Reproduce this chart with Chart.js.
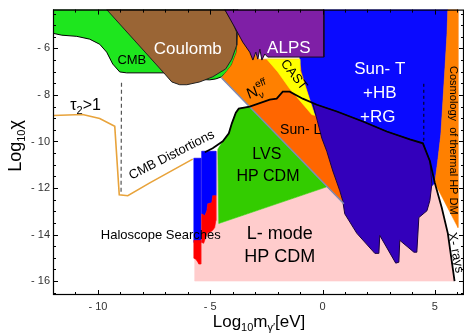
<!DOCTYPE html>
<html>
<head>
<meta charset="utf-8">
<title>Hidden photon limits</title>
<script src="https://cdn.jsdelivr.net/npm/chart.js@4.4.1/dist/chart.umd.min.js"></script>
<style>
  body { margin: 0; background: #fff; }
  canvas { display: block; }
</style>
</head>
<body>
<canvas id="myChart" width="464" height="334"></canvas>
<script>
// every point is [log10 m (eV), log10 chi]
var pinkRegion = [[-5.69,-10.72],[-5.38,-10.72],[-5.38,-10.42],[-4.66,-10.42],[-4.66,-13.57],[0.19,-11.95],[0.95,-12.68],[1.22,-13.06],[2.55,-13.61],[4.29,-13.19],[4.65,-12.76],[4.87,-11.82],[5.00,-11.78],[5.31,-12.85],[5.58,-13.95],[5.88,-16.0],[-5.69,-16.0]];
var cmbRegion = [[-12,-4.33],[-3.77,-4.33],[-3.77,-5.52],[-3.82,-6.16],[-4.04,-6.71],[-4.31,-7.05],[-4.49,-7.22],[-4.75,-7.31],[-5.02,-7.35],[-6.36,-7.30],[-6.94,-7.05],[-8.72,-7.05],[-9.03,-7.01],[-9.34,-6.67],[-9.61,-6.16],[-9.92,-5.82],[-10.37,-5.60],[-10.94,-5.48],[-11.61,-5.43],[-12,-5.35]];
var nEffRegion = [[-4.49,-7.27],[-4.31,-7.05],[-4.04,-6.71],[-3.82,-6.16],[-3.77,-5.52],[-3.77,-4.88],[-2.88,-6.46],[-1.01,-6.46],[-0.34,-8.84],[0.19,-10.42],[0.95,-12.68]];
var sunLRegion = [[-3.24,-8.50],[-2.35,-8.20],[-2.04,-8.16],[-1.77,-7.86],[-1.46,-7.86],[-0.88,-8.16],[-0.43,-8.37],[-0.03,-9.86],[0.19,-10.42],[0.46,-11.27],[0.77,-12.12],[0.95,-12.68]];
var lvsRegion = [[-4.66,-10.33],[-4.44,-9.99],[-4.17,-9.65],[-4.04,-9.23],[-3.86,-8.76],[-3.73,-8.59],[-3.24,-8.50],[0.19,-11.95],[-4.62,-13.53]];
var coulombRegion = [[-9.61,-4.33],[-4.35,-4.33],[-4.00,-4.88],[-3.82,-5.31],[-3.82,-5.86],[-4.04,-6.46],[-4.31,-6.88],[-4.89,-7.22],[-5.47,-7.44],[-6.04,-7.56],[-6.36,-7.56],[-6.71,-7.44],[-7.02,-7.10]];
var sunTRegion = [[0.06,-4.33],[5.58,-4.33],[5.54,-5.43],[5.45,-6.88],[5.36,-8.29],[5.27,-9.69],[5.13,-10.84],[5.00,-11.78],[4.87,-11.91],[4.69,-11.27],[4.33,-10.42],[-0.34,-8.84],[-0.92,-7.01],[-1.01,-6.46],[-1.01,-6.37],[0.06,-6.37]];
var alpsRegion = [[-4.35,-4.33],[0.06,-4.33],[0.06,-6.37],[-2.44,-6.37],[-2.57,-6.24],[-2.70,-6.50],[-2.79,-6.03],[-2.88,-6.46],[-2.97,-6.16],[-3.10,-6.50],[-3.24,-6.16],[-3.55,-5.73],[-3.91,-5.09]];
var castRegion = [[-2.48,-6.46],[-1.01,-6.46],[-1.01,-6.93],[-0.34,-8.88],[-0.48,-8.84],[-1.46,-7.73],[-1.99,-7.01]];
var sunHbRgRegion = [[-0.43,-8.37],[-0.25,-8.42],[0.64,-8.71],[1.80,-9.14],[2.86,-9.57],[3.89,-9.91],[4.47,-10.08],[4.78,-10.84],[4.87,-11.82],[4.78,-12.54],[4.65,-12.98],[4.29,-13.27],[4.20,-14.76],[4.07,-14.76],[3.44,-14.25],[3.40,-15.19],[3.26,-15.23],[2.55,-14.04],[2.51,-14.81],[2.33,-14.81],[1.53,-13.95],[0.99,-13.11],[0.90,-12.54],[0.77,-12.12],[0.46,-11.27],[0.19,-10.42],[-0.03,-9.86]];
var cosmoRegion = [[5.58,-4.33],[6.03,-4.33],[6.03,-13.70],[5.00,-11.78],[5.13,-10.84],[5.27,-9.69],[5.36,-8.29],[5.45,-6.88],[5.54,-5.43]];
var haloBlue1 = [[-5.73,-10.72],[-5.42,-10.72],[-5.42,-14.34],[-5.73,-14.34]];
var haloRed1 = [[-5.73,-14.25],[-5.42,-14.25],[-5.42,-15.27],[-5.51,-15.27],[-5.55,-15.19],[-5.64,-15.06],[-5.73,-15.02]];
var haloBlue2 = [[-5.38,-10.42],[-4.75,-10.42],[-4.75,-12.33],[-4.89,-12.33],[-4.93,-12.63],[-5.11,-12.68],[-5.15,-12.98],[-5.24,-13.19],[-5.38,-13.11]];
var haloRed2 = [[-5.38,-13.11],[-5.24,-13.19],[-5.15,-12.98],[-5.11,-12.68],[-4.93,-12.63],[-4.89,-12.33],[-4.75,-12.33],[-4.75,-13.40],[-4.80,-13.70],[-4.89,-13.82],[-5.02,-13.91],[-5.11,-13.91],[-5.20,-14.12],[-5.29,-14.38],[-5.38,-14.34]];
var greyLine = [[-4.49,-7.27],[0.95,-12.68]];
var tauLine = [[-12,-8.88],[-10.68,-8.84],[-9.92,-9.01],[-9.25,-9.35],[-9.05,-12.29],[-8.67,-12.33],[-7.69,-11.78],[-5.78,-10.76]];
var cmbDashLine = [[-8.95,-7.48],[-8.97,-12.29]];
var sunDashLine = [[4.51,-7.52],[4.51,-10.08]];
var boundaryLine = [[-5.24,-10.46],[-4.89,-10.29],[-4.44,-9.99],[-4.17,-9.65],[-4.04,-9.23],[-3.86,-8.76],[-3.73,-8.59],[-3.24,-8.50],[-2.35,-8.20],[-2.04,-8.16],[-1.77,-7.86],[-1.46,-7.86],[-0.88,-8.16],[-0.25,-8.42],[0.64,-8.71],[1.80,-9.14],[2.86,-9.57],[3.89,-9.91],[4.47,-10.08],[4.78,-10.84],[5.00,-11.78],[5.31,-12.85],[5.58,-13.95],[5.88,-16.0]];

var xTickValues = [-10, -5, 0, 5];
var yTickValues = [-16, -14, -12, -10, -8, -6];
var xMinorStep = 1, yMinorStep = 0.5;

var FONT = '"Liberation Sans", Arial, Helvetica, sans-serif';

var regionLabels = [
  {text: 'CMB', x: -8.49, y: -6.50, size: 13, color: '#000'},
  {text: 'Coulomb', x: -6.0, y: -6.03, size: 17, color: '#fff'},
  {text: 'ALPS', x: -1.50, y: -5.99, size: 17, color: '#fff'},
  {text: 'CAST', x: -1.28, y: -7.14, size: 13, color: '#000', rot: 52},
  {text: 'Sun- T', x: 2.55, y: -6.88, size: 17, color: '#fff'},
  {text: '+HB', x: 2.55, y: -7.95, size: 17, color: '#fff'},
  {text: '+RG', x: 2.46, y: -8.97, size: 17, color: '#fff'},
  {text: 'Sun- L', x: -0.97, y: -9.53, size: 14, color: '#000'},
  {text: 'LVS', x: -2.48, y: -10.55, size: 16, color: '#000'},
  {text: 'HP CDM', x: -2.43, y: -11.53, size: 16, color: '#000'},
  {text: 'L- mode', x: -1.90, y: -13.96, size: 18, color: '#000'},
  {text: 'HP CDM', x: -1.90, y: -14.98, size: 18, color: '#000'},
  {text: 'Haloscope Searches', x: -7.20, y: -14.04, size: 13, color: '#000'},
  {text: 'CMB Distortions', x: -6.71, y: -10.59, size: 13, color: '#000', rot: -27},
  {text: 'Cosmology  of thermal HP DM', x: 5.81, y: -9.95, size: 11, color: '#000', rot: 90},
  {text: 'X- rays', x: 5.92, y: -14.78, size: 13, color: '#000', rot: 79}
];

function pts(a) { return a.map(function (p) { return {x: p[0], y: p[1]}; }); }

function area(label, points, color, edge, edgeWidth) {
  return {
    label: label, data: pts(points.concat([points[0]])), fill: 'shape',
    backgroundColor: color, borderColor: edge || color, borderWidth: edgeWidth || 0.6,
    pointRadius: 0, tension: 0
  };
}
function curve(label, points, color, width, dash) {
  return {
    label: label, data: pts(points), fill: false, borderColor: color,
    borderWidth: width, borderDash: dash || [], pointRadius: 0, tension: 0
  };
}

// back to front
var layers = [
  area('L-mode HP CDM', pinkRegion, '#ffcccc'),
  area('CMB', cmbRegion, '#1ee61e', '#000', 1),
  area('N eff', nEffRegion, '#ff8000'),
  area('Sun-L', sunLRegion, '#ff6600'),
  area('LVS', lvsRegion, '#33cc00'),
  area('Coulomb', coulombRegion, '#9a6535', '#222', 1),
  area('Sun-T', sunTRegion, '#0a0aff'),
  area('ALPS', alpsRegion, '#7f1fa6', '#1a0a20', 1),
  area('CAST', castRegion, '#ffff00'),
  area('Sun-T HB RG', sunHbRgRegion, '#3300bb', '#1a0040', 1),
  area('Cosmology', cosmoRegion, '#ff8000'),
  area('Haloscope 1', haloBlue1, '#0000ff'),
  area('Haloscope 1 red', haloRed1, '#ff0000'),
  area('Haloscope 2', haloBlue2, '#0000ff'),
  area('Haloscope 2 red', haloRed2, '#ff0000'),
  curve('LVS edge', greyLine, '#7f8cb5', 1.5),
  curve('tau', tauLine, '#e8a33b', 1.6),
  curve('CMB dash', cmbDashLine, '#555', 1.2, [4, 3]),
  curve('Sun dash', sunDashLine, '#000', 1, [3, 3]),
  curve('boundary', boundaryLine, '#000', 1.8)
];
layers.forEach(function (d, i) { d.order = layers.length - i; });

function richText(ctx, cx, cy, rot, parts, color) {
  ctx.save();
  ctx.translate(cx, cy);
  ctx.rotate(rot * Math.PI / 180);
  ctx.fillStyle = color;
  ctx.textAlign = 'left';
  ctx.textBaseline = 'alphabetic';
  var total = 0;
  parts.forEach(function (p) {
    ctx.font = p.size + 'px ' + FONT;
    p.w = ctx.measureText(p.text).width;
    if (!p.stack) total += p.w;
  });
  var x = -total / 2, base = parts[0].size * 0.36;
  parts.forEach(function (p) {
    ctx.font = p.size + 'px ' + FONT;
    ctx.fillText(p.text, x, base + (p.dy || 0));
    if (!p.stack) x += p.w;
  });
  ctx.restore();
}

var overlay = {
  id: 'overlay',
  afterDatasetsDraw: function (chart) {
    var ctx = chart.ctx, xs = chart.scales.x, ys = chart.scales.y, ca = chart.chartArea;
    ctx.save();
    regionLabels.forEach(function (l) {
      ctx.save();
      ctx.translate(xs.getPixelForValue(l.x), ys.getPixelForValue(l.y));
      ctx.rotate((l.rot || 0) * Math.PI / 180);
      ctx.font = l.size + 'px ' + FONT;
      ctx.fillStyle = l.color;
      ctx.textAlign = 'center';
      ctx.textBaseline = 'middle';
      ctx.fillText(l.text, 0, 0);
      ctx.restore();
    });
    richText(ctx, xs.getPixelForValue(-10.55), ys.getPixelForValue(-8.42), 0,
      [{text: 'τ', size: 16}, {text: '2', size: 11, dy: 4}, {text: '>1', size: 16}], '#000');
    richText(ctx, xs.getPixelForValue(-2.92), ys.getPixelForValue(-7.80), -20,
      [{text: 'N', size: 15}, {text: 'eff', size: 10, dy: -8, stack: true}, {text: 'ν', size: 10, dy: 4}, {text: '  ', size: 10}], '#000');

    // frame with inward ticks on all four sides
    ctx.strokeStyle = '#000';
    ctx.lineWidth = 1.2;
    ctx.strokeRect(ca.left + 0.5, ca.top + 0.5, ca.right - ca.left - 1, ca.bottom - ca.top - 1);
    ctx.lineWidth = 1;
    ctx.beginPath();
    var v, p, len;
    for (v = Math.ceil(xs.min); v <= xs.max; v += xMinorStep) {
      p = Math.round(xs.getPixelForValue(v)) + 0.5;
      len = (v % 5 === 0) ? 5 : 3;
      ctx.moveTo(p, ca.bottom); ctx.lineTo(p, ca.bottom - len);
      ctx.moveTo(p, ca.top); ctx.lineTo(p, ca.top + len);
    }
    for (v = Math.ceil(ys.min / yMinorStep) * yMinorStep; v <= ys.max; v += yMinorStep) {
      p = Math.round(ys.getPixelForValue(v)) + 0.5;
      len = (Math.abs(v % 2) < 1e-6) ? 5 : 3;
      ctx.moveTo(ca.left, p); ctx.lineTo(ca.left + len, p);
      ctx.moveTo(ca.right, p); ctx.lineTo(ca.right - len, p);
    }
    ctx.stroke();

    // axis titles
    richText(ctx, 259, 321, 0,
      [{text: 'Log', size: 17}, {text: '10', size: 11, dy: 4}, {text: 'm', size: 17},
       {text: 'γ′', size: 11, dy: 4}, {text: '[eV]', size: 17}], '#000');
    richText(ctx, 15, 146, -90,
      [{text: 'Log', size: 18}, {text: '10', size: 11, dy: 4}, {text: 'χ', size: 18}], '#000');
    ctx.restore();
  }
};

function tickText(v) { return v < 0 ? '- ' + (-v) : String(v); }

var ctx = document.getElementById('myChart').getContext('2d');
var chart = new Chart(ctx, {
  type: 'line',
  data: { datasets: layers },
  options: {
    responsive: false,
    animation: false,
    events: [],
    devicePixelRatio: 1,
    layout: { padding: { top: 7, right: 0, left: 0, bottom: 0 } },
    plugins: { legend: { display: false }, tooltip: { enabled: false } },
    scales: {
      x: {
        type: 'linear', min: -12, max: 6.3,
        grid: { display: false, drawTicks: false },
        border: { display: false },
        afterBuildTicks: function (s) { s.ticks = xTickValues.map(function (v) { return {value: v}; }); },
        afterFit: function (s) { s.height = 39; },
        ticks: { padding: 5, color: '#333', font: { size: 11, family: FONT }, maxRotation: 0, autoSkip: false, callback: tickText }
      },
      y: {
        type: 'linear', min: -16.6, max: -4.33,
        grid: { display: false, drawTicks: false },
        border: { display: false },
        afterBuildTicks: function (s) { s.ticks = yTickValues.map(function (v) { return {value: v}; }); },
        afterFit: function (s) { s.width = 53; },
        ticks: { padding: 3, color: '#333', font: { size: 11, family: FONT }, autoSkip: false, callback: tickText }
      }
    }
  },
  plugins: [overlay]
});
</script>
</body>
</html>
